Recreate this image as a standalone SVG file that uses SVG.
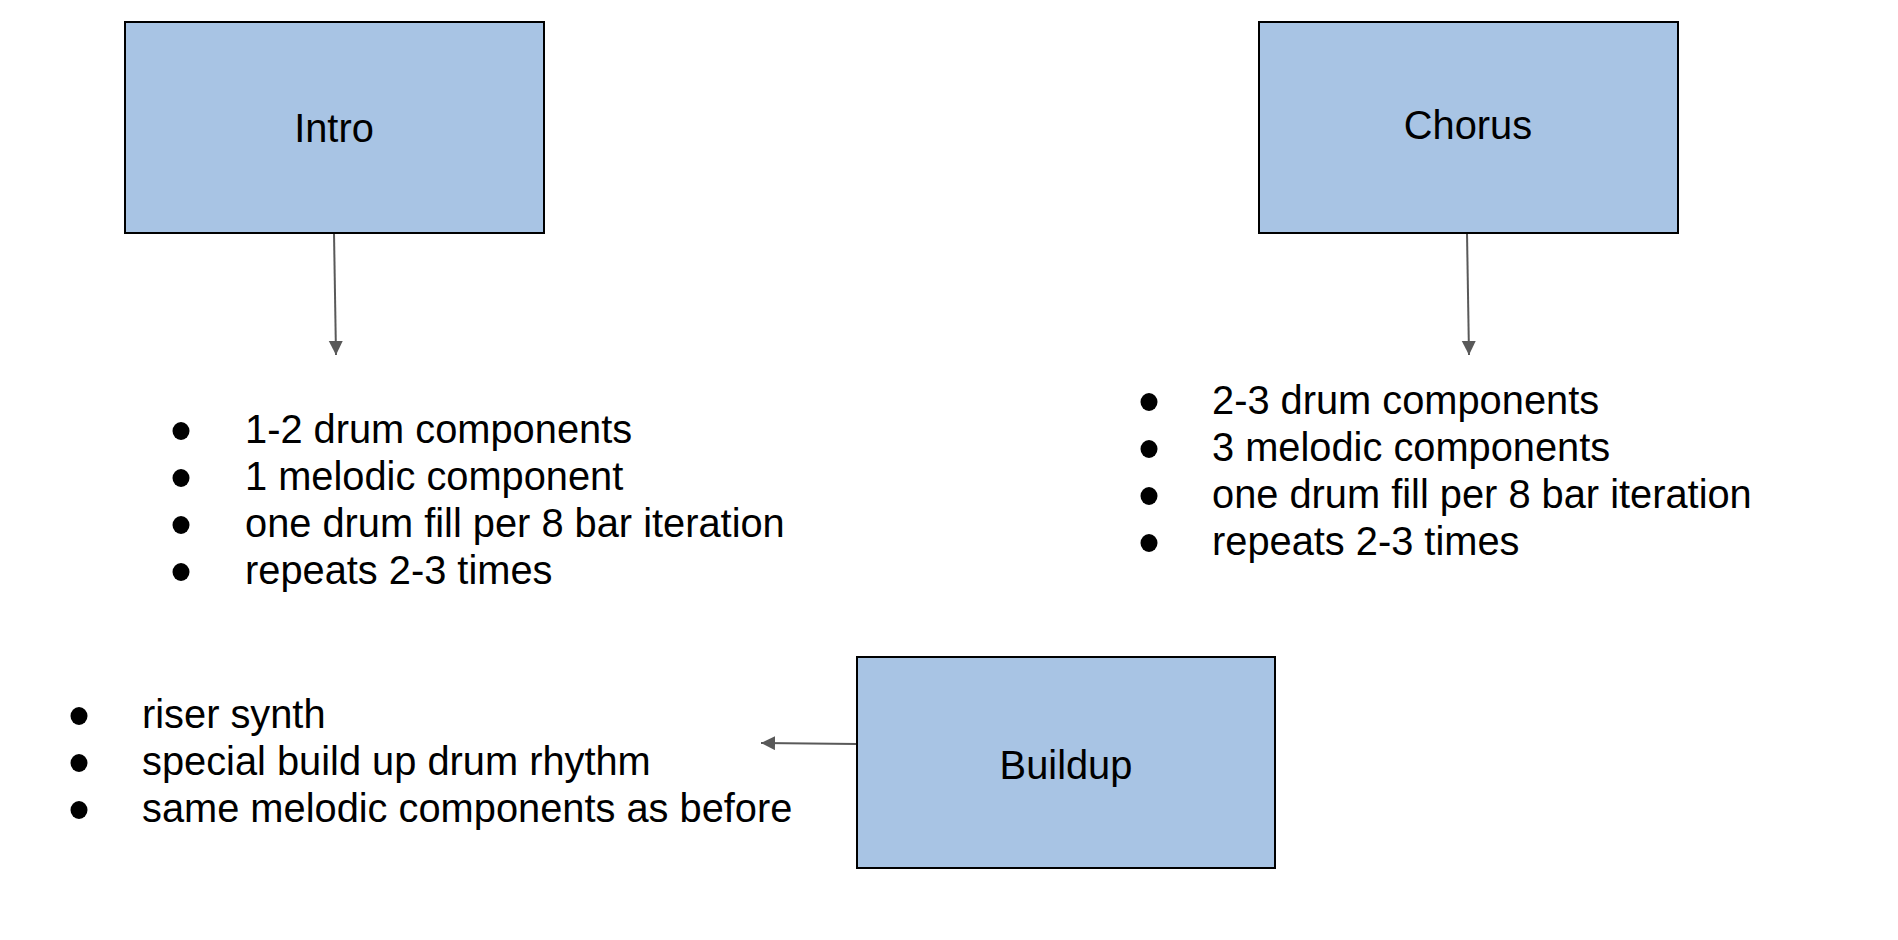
<svg xmlns="http://www.w3.org/2000/svg" width="1898" height="940" viewBox="0 0 1898 940">
<style>
.box{fill:#a8c4e4;stroke:#000;stroke-width:2}
.t{font-family:"Liberation Sans",Arial,sans-serif;font-size:39.8px;fill:#000}
.c{text-anchor:middle}
.conn{stroke:#595959;stroke-width:2;fill:none}
.b{fill:#000}
</style>
<defs>
<marker id="ah" markerUnits="userSpaceOnUse" markerWidth="16" markerHeight="16" refX="14" refY="7" orient="auto">
<path d="M0,0 L14,7 L0,14 Z" fill="#595959"/>
</marker>
</defs>
<rect width="1898" height="940" fill="#fff"/>
<g id="connectors">
<line class="conn" x1="334" y1="233" x2="336" y2="355" marker-end="url(#ah)"/>
<line class="conn" x1="1467" y1="233" x2="1469" y2="355" marker-end="url(#ah)"/>
<line class="conn" x1="857" y1="744" x2="761" y2="743" marker-end="url(#ah)"/>
</g>
<g id="intro">
<rect class="box" x="125" y="22" width="419" height="211"/>
<text class="t c" x="334" y="142">Intro</text>
</g>
<g id="chorus">
<rect class="box" x="1259" y="22" width="419" height="211"/>
<text class="t c" x="1468" y="139">Chorus</text>
</g>
<g id="buildup">
<rect class="box" x="857" y="657" width="418" height="211"/>
<text class="t c" x="1066" y="779">Buildup</text>
</g>
<g id="intro-list">
<ellipse class="b" cx="181" cy="431" rx="8.5" ry="9"/>
<ellipse class="b" cx="181" cy="478" rx="8.5" ry="9"/>
<ellipse class="b" cx="181" cy="525" rx="8.5" ry="9"/>
<ellipse class="b" cx="181" cy="572" rx="8.5" ry="9"/>
<text class="t" x="245" y="443">1-2 drum components</text>
<text class="t" x="245" y="490">1 melodic component</text>
<text class="t" x="245" y="537">one drum fill per 8 bar iteration</text>
<text class="t" x="245" y="584">repeats 2-3 times</text>
</g>
<g id="chorus-list">
<ellipse class="b" cx="1149" cy="402" rx="8.5" ry="9"/>
<ellipse class="b" cx="1149" cy="449" rx="8.5" ry="9"/>
<ellipse class="b" cx="1149" cy="496" rx="8.5" ry="9"/>
<ellipse class="b" cx="1149" cy="543" rx="8.5" ry="9"/>
<text class="t" x="1212" y="414">2-3 drum components</text>
<text class="t" x="1212" y="461">3 melodic components</text>
<text class="t" x="1212" y="508">one drum fill per 8 bar iteration</text>
<text class="t" x="1212" y="555">repeats 2-3 times</text>
</g>
<g id="buildup-list">
<ellipse class="b" cx="79" cy="716" rx="8.5" ry="9"/>
<ellipse class="b" cx="79" cy="763" rx="8.5" ry="9"/>
<ellipse class="b" cx="79" cy="810" rx="8.5" ry="9"/>
<text class="t" x="142" y="728">riser synth</text>
<text class="t" x="142" y="775">special build up drum rhythm</text>
<text class="t" x="142" y="822">same melodic components as before</text>
</g>
</svg>
